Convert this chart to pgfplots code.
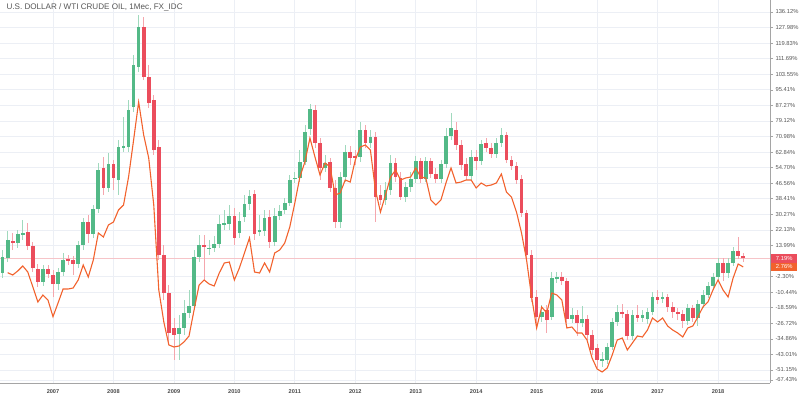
\documentclass[border=0pt]{standalone}
\usepackage{pgfplots}
\pgfplotsset{compat=1.18}
\usepackage{pgfplotstable}
\usepackage{fontspec}
\setmainfont{Liberation Sans}
\definecolor{upc}{RGB}{83,185,135}
\definecolor{dnc}{RGB}{235,77,92}
\definecolor{linec}{RGB}{242,98,45}
\definecolor{gridc}{RGB}{236,239,245}
\definecolor{axc}{RGB}{165,165,165}
\definecolor{txtc}{RGB}{85,85,85}
\definecolor{pinkc}{RGB}{246,196,200}

% up (green) candles: month o h l c  (values in %)
\pgfplotstableread{
m o h l c
-10 -0.4 11.6 -3.0 8.0
-9 7.5 21.6 5.3 16.9
-7 15.3 22.1 12.7 20.0
-6 19.5 27.3 16.9 20.5
-2 -5.1 3.8 -7.2 1.7
1 -6.2 2.2 -9.3 0.1
2 0.1 10.1 -2.0 6.4
5 4.3 16.3 2.2 14.2
6 14.2 28.4 11.6 26.3
8 20.0 35.2 17.9 33.1
9 33.1 57.1 31.0 53.5
11 44.1 62.4 42.0 56.6
13 48.2 69.2 40.4 65.5
14 65.0 81.2 62.9 66.0
15 65.5 90.1 62.9 84.9
16 86.4 113.6 83.8 108.4
17 107.4 134.6 104.7 128.3
25 -32.3 -22.4 -45.9 -29.2
26 -29.2 -14.5 -32.8 -21.3
27 -21.3 -9.3 -23.9 -17.7
28 -17.7 11.6 -19.8 8.0
29 8.0 19.5 5.3 14.2
31 12.2 16.9 9.0 12.7
32 12.7 19.0 10.6 14.8
33 14.8 29.9 12.7 25.2
34 24.7 32.6 22.1 25.8
35 25.2 35.2 22.1 29.4
37 20.5 31.5 17.9 26.8
38 28.9 40.4 26.3 35.7
39 35.7 43.0 32.6 39.9
41 21.0 29.9 19.0 22.1
42 21.6 32.6 19.0 28.4
44 15.8 33.6 13.7 29.4
45 29.4 35.2 27.3 32.0
46 32.6 38.8 30.5 36.2
47 36.2 50.9 34.6 48.2
48 48.8 52.4 46.7 49.3
49 49.3 63.9 47.2 57.7
50 57.7 77.0 56.1 73.4
51 74.9 88.0 71.8 85.4
54 54.5 61.3 52.4 57.1
57 26.3 52.4 23.1 49.8
58 49.8 66.6 47.2 62.9
61 60.3 78.6 57.7 74.4
63 67.6 74.4 65.0 70.7
66 37.8 47.2 35.2 43.0
67 43.0 61.3 40.4 57.1
70 39.4 47.2 36.7 44.6
71 44.6 52.4 42.0 48.8
72 48.8 60.8 46.7 58.2
74 48.8 60.3 47.2 58.2
77 48.8 58.7 46.7 56.6
78 56.6 75.4 54.5 71.3
79 71.3 83.3 69.2 75.4
83 50.3 63.9 48.2 60.3
85 58.2 69.2 56.1 67.1
88 61.8 70.2 59.8 67.6
89 67.6 75.4 65.5 71.8
97 -23.4 -17.2 -26.0 -20.8
99 -23.4 0.1 -25.0 -3.0
100 -3.6 0.1 -5.6 -2.5
103 -24.5 -18.7 -26.5 -22.4
105 -26.5 -17.7 -28.7 -24.5
109 -46.4 -41.7 -49.6 -45.4
110 -45.9 -37.0 -48.0 -39.1
111 -39.1 -23.9 -40.7 -26.0
112 -26.0 -17.2 -28.1 -20.8
115 -33.4 -19.8 -35.5 -22.4
117 -23.9 -19.8 -26.0 -22.4
118 -24.5 -18.7 -27.1 -20.8
119 -20.8 -10.4 -22.4 -13.0
121 -14.0 -10.4 -16.1 -13.0
126 -25.5 -16.6 -27.6 -18.7
128 -23.9 -14.5 -28.1 -16.6
129 -16.6 -9.3 -18.7 -11.9
130 -11.9 -5.1 -13.5 -7.2
131 -7.2 -0.4 -9.3 -2.5
132 -2.5 7.5 -4.1 4.8
134 -0.4 7.5 -3.0 4.8
135 4.8 13.2 3.3 11.1
}\upt

% down (red) candles
\pgfplotstableread{
m o h l c
-8 16.3 20.5 11.6 15.3
-5 21.0 25.8 11.6 13.7
-4 13.7 15.8 0.1 2.2
-3 1.7 4.3 -7.7 -5.1
-1 1.7 3.8 -3.0 -0.9
0 -1.5 1.2 -13.0 -6.2
3 6.9 9.0 3.8 6.1
4 6.4 8.5 -1.5 4.3
7 26.3 29.9 15.3 20.0
10 54.5 60.3 40.4 44.1
12 56.6 58.7 43.0 49.3
18 128.3 133.5 100.6 102.1
19 102.1 108.4 85.9 88.5
20 90.1 92.7 61.3 63.9
21 65.5 69.2 6.4 9.0
22 9.0 14.2 -14.5 -10.9
23 -10.9 -6.7 -38.1 -31.8
24 -29.2 -23.9 -45.9 -32.8
30 14.2 19.5 -4.1 13.2
36 29.4 33.6 14.2 17.9
40 40.9 43.0 16.9 20.0
43 28.9 32.6 12.7 15.8
52 84.9 87.5 65.0 67.6
53 67.6 70.2 48.2 54.5
55 57.7 59.8 42.0 44.1
56 44.1 48.2 23.1 26.3
59 62.9 66.0 56.1 59.8
60 60.8 63.9 56.1 59.8
62 74.4 77.0 65.0 67.6
64 70.7 73.4 26.3 39.4
65 40.4 45.6 35.2 37.8
68 57.1 59.8 47.2 49.8
69 49.3 52.4 37.8 39.4
73 58.2 59.8 46.7 48.8
75 58.2 59.8 49.3 51.4
76 51.4 54.5 46.7 48.8
80 74.4 78.6 63.9 66.6
81 66.6 69.2 53.5 56.1
82 56.6 59.8 48.2 50.3
84 60.3 63.9 53.5 58.2
86 67.6 70.2 62.9 65.0
87 65.0 67.6 59.8 61.8
90 71.8 73.4 57.1 58.7
91 58.7 60.8 53.5 55.6
92 55.6 57.7 46.2 48.2
93 48.8 50.9 28.9 31.0
94 31.0 32.6 7.5 9.0
95 9.0 11.6 -15.6 -13.5
96 -13.0 -9.3 -27.6 -23.4
98 -19.8 -17.2 -31.8 -25.0
101 -2.5 0.1 -6.7 -4.6
102 -4.6 -3.0 -26.5 -24.5
104 -22.4 -19.8 -33.4 -26.5
106 -24.5 -22.4 -35.5 -32.8
107 -32.8 -30.2 -43.3 -40.7
108 -39.6 -37.6 -50.1 -45.9
113 -20.8 -16.6 -23.9 -21.9
114 -21.9 -19.8 -35.5 -33.4
116 -22.4 -17.2 -26.0 -23.9
120 -13.0 -9.3 -16.6 -14.5
122 -13.0 -11.4 -20.8 -18.2
123 -18.2 -15.6 -23.9 -20.8
124 -20.8 -18.7 -25.0 -21.9
125 -21.9 -19.8 -29.2 -25.5
127 -18.7 -17.2 -26.0 -23.9
133 4.8 7.5 -4.6 -0.4
136 11.1 18.4 6.9 8.5
137 8.5 10.1 5.3 7.2
}\dnt

% comparison line
\pgfplotstableread{
m v
-9 -0.25
-8 -1.45
-7 0.64
-6 3.25
-5 0.11
-4 -7.73
-3 -15.57
-2 -11.91
-1 -14.53
0 -23.26
1 -16.10
2 -8.78
3 -8.78
4 -8.25
5 -4.07
6 3.77
7 -2.50
8 6.39
9 20.52
10 18.43
11 24.70
12 26.27
13 32.55
14 35.16
15 49.81
16 69.17
17 89.04
18 71.78
19 59.75
20 35.16
21 -9.30
22 -26.04
23 -38.07
24 -39.12
25 -38.60
26 -36.50
27 -33.36
28 -19.76
29 -6.68
30 -4.07
31 -6.16
32 -7.21
33 -0.41
34 4.82
35 5.34
36 -4.07
37 2.21
38 10.06
39 17.91
40 0.11
41 -0.41
42 4.82
43 0.11
44 10.06
45 11.63
46 15.29
47 23.66
48 36.21
49 49.81
50 57.66
51 70.21
52 60.27
53 50.86
54 57.13
55 55.04
56 40.40
57 41.44
58 48.24
59 47.19
60 58.70
61 65.51
62 66.55
63 63.94
64 43.01
65 31.50
66 40.40
67 49.81
68 53.47
69 48.24
70 49.29
71 49.81
72 54.52
73 49.81
74 49.29
75 37.78
76 35.16
77 37.78
78 46.67
79 54.52
80 46.67
81 47.19
82 48.24
83 48.24
84 44.06
85 46.67
86 45.10
87 45.63
88 46.67
89 51.38
90 41.96
91 39.35
92 31.50
93 20.52
94 6.39
95 -12.96
96 -29.17
97 -18.19
98 -21.33
99 -10.87
100 -11.91
101 -14.53
102 -29.17
103 -28.65
104 -31.79
105 -31.79
106 -35.45
107 -44.87
108 -50.63
109 -52.19
110 -50.10
111 -43.30
112 -35.45
113 -34.41
114 -40.69
115 -37.03
116 -33.36
117 -33.88
118 -30.22
119 -23.94
120 -26.04
121 -23.94
122 -28.13
123 -30.22
124 -31.79
125 -33.88
126 -29.17
127 -28.13
128 -23.42
129 -18.19
130 -15.57
131 -9.30
132 -4.07
133 -9.30
134 -12.96
135 -3.02
136 4.30
137 2.76
}\linet

\begin{document}
\begin{tikzpicture}
\useasboundingbox (0,0) rectangle (800pt,393pt);
\begin{axis}[
  at={(0pt,10pt)}, anchor=south west,
  width=770pt, height=383pt, scale only axis,
  xmin=-10.52, xmax=142.32, ymin=-57.95, ymax=142.40,
  axis x line*=bottom, axis y line*=right,
  axis line style={-, draw=axc, line width=0.9pt},
  x axis line style={-}, y axis line style={-},
  xtick pos=bottom, ytick pos=right, yticklabel pos=right,
  xtick={0,12,...,132},
  xticklabels={2007,2008,2009,2010,2011,2012,2013,2014,2015,2016,2017,2018},
  x tick label style={font=\fontsize{5.6}{6}\selectfont\bfseries, text=txtc!85!black, yshift=0pt},
  xtick style={draw=none},
  ytick={-56.38,-51.15,-43.01,-34.86,-26.72,-18.59,-10.44,-2.30,13.99,22.13,30.27,38.41,46.56,54.70,62.84,70.98,79.12,87.27,95.41,103.55,111.69,119.83,127.98,136.12},
  yticklabels={-67.43\%,-51.15\%,-43.01\%,-34.86\%,-26.72\%,-18.59\%,-10.44\%,-2.30\%,13.99\%,22.13\%,30.27\%,38.41\%,46.56\%,54.70\%,62.84\%,70.98\%,79.12\%,87.27\%,95.41\%,103.55\%,111.69\%,119.83\%,127.98\%,136.12\%},
  y tick label style={font=\fontsize{5.8}{6}\selectfont, text=txtc, xshift=-1pt},
  ytick style={draw=axc, line width=0.6pt},
  tick align=outside, major tick length=3pt,
  grid=major, major grid style={draw=gridc, line width=0.7pt},
  clip=false,
]
% last price line
\addplot[draw=pinkc, line width=0.8pt, forget plot] coordinates {(-10.52,7.19) (142.32,7.19)};
% wicks
\addplot[draw=none, mark=none, forget plot, error bars/.cd, y dir=plus, y explicit, error mark=none,
  error bar style={draw=upc!55!white, line width=0.8pt}]
  table[x=m, y=l, y error expr=\thisrow{h}-\thisrow{l}] {\upt};
\addplot[draw=none, mark=none, forget plot, error bars/.cd, y dir=plus, y explicit, error mark=none,
  error bar style={draw=dnc!50!white, line width=0.8pt}]
  table[x=m, y=l, y error expr=\thisrow{h}-\thisrow{l}] {\dnt};
% bodies
\addplot[draw=none, mark=none, forget plot, error bars/.cd, y dir=plus, y explicit, error mark=none,
  error bar style={draw=upc, line width=3.7pt}]
  table[x=m, y=o, y error expr=\thisrow{c}-\thisrow{o}] {\upt};
\addplot[draw=none, mark=none, forget plot, error bars/.cd, y dir=plus, y explicit, error mark=none,
  error bar style={draw=dnc, line width=3.7pt}]
  table[x=m, y=c, y error expr=\thisrow{o}-\thisrow{c}] {\dnt};
% comparison line
\addplot[draw=linec, line width=1.1pt, mark=none] table[x=m, y=v] {\linet};
% price labels
\node[fill=dnc, text=white, font=\fontsize{5.8}{6}\selectfont, inner sep=0pt, minimum width=26pt, minimum height=8.6pt, anchor=west]
  at ([xshift=1pt]axis cs:142.32,7.19) {7.19\%};
\node[fill=linec, text=white, font=\fontsize{5.8}{6}\selectfont, inner sep=0pt, minimum width=26pt, minimum height=8.6pt, anchor=west]
  at ([xshift=1pt]axis cs:142.32,2.76) {2.76\%};
\end{axis}
\node[anchor=west, font=\fontsize{8.1}{9}\selectfont, text=txtc] at (3pt,386pt) {U.S. DOLLAR / WTI CRUDE OIL, 1Мес, FX\_IDC};
\end{tikzpicture}
\end{document}
